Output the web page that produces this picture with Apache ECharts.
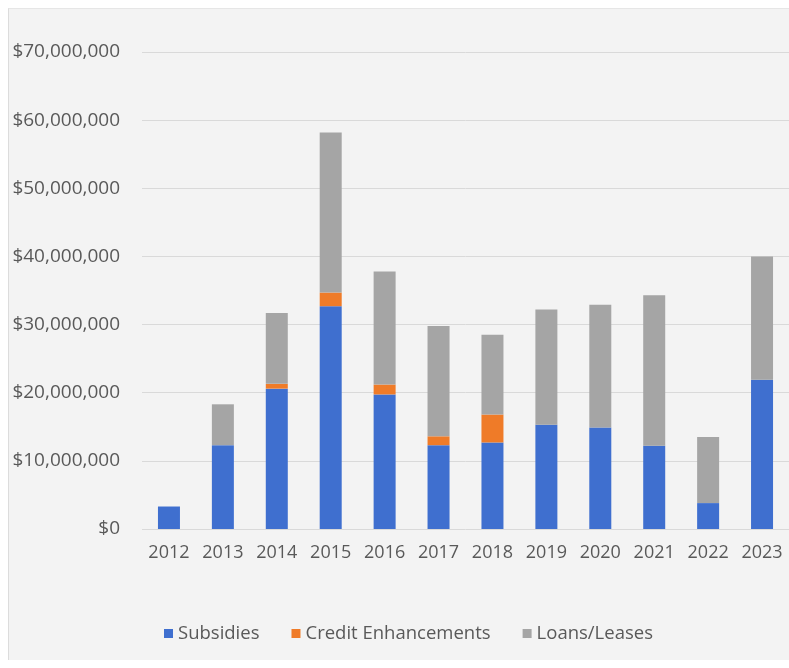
<!DOCTYPE html>
<html>
<head>
<meta charset="utf-8">
<script src="https://cdn.jsdelivr.net/npm/echarts@6/dist/echarts.min.js"></script>
<style>
  html, body { margin: 0; padding: 0; background: #ffffff; }
  #chart {
    position: absolute; left: 8px; top: 8px;
    width: 781px; height: 652px;
    background: #f3f3f3;
    border-left: 1px solid #dcdcdc;
    border-top: 1px solid #e6e6e6;
    box-sizing: border-box;
  }
</style>
</head>
<body>
<div id="chart"></div>
<script>
// 年份
var years = ['2012', '2013', '2014', '2015', '2016', '2017', '2018', '2019', '2020', '2021', '2022', '2023'];

// 各类金额 (美元)
var subsidies = [3300000, 12300000, 20600000, 32700000, 19750000, 12300000, 12700000, 15300000, 14900000, 12200000, 3800000, 21900000];
var creditEnhancements = [0, 0, 700000, 2000000, 1450000, 1300000, 4100000, 0, 0, 0, 0, 0];
var loansLeases = [0, 6000000, 10400000, 23500000, 16600000, 16200000, 11700000, 16900000, 18000000, 22100000, 9700000, 18100000];

var textColor = '#595959';
var fontFamily = '"Open Sans", sans-serif';

var formatDollar = function (value) {
  if (value === 0) return '$0';
  return '$' + String(value).replace(/\B(?=(\d{3})+(?!\d))/g, ',');
};

var option = {
  backgroundColor: 'transparent',
  color: ['#3f6fcf', '#ef7b28', '#a5a5a5'],
  animation: false,
  grid: {
    left: 133,
    right: 0,
    top: 43,
    bottom: 131
  },
  legend: {
    left: 150,
    top: 610,
    itemWidth: 9,
    itemHeight: 9,
    itemGap: 32,
    icon: 'rect',
    textStyle: { color: textColor, fontSize: 18.5, fontFamily: fontFamily },
    data: ['Subsidies', 'Credit Enhancements', 'Loans/Leases']
  },
  xAxis: {
    type: 'category',
    data: years,
    axisLine: { show: false },
    axisTick: { show: false },
    axisLabel: { color: textColor, fontSize: 18, fontFamily: fontFamily, margin: 15 }
  },
  yAxis: {
    type: 'value',
    min: 0,
    max: 70000000,
    interval: 10000000,
    axisLine: { show: false },
    axisTick: { show: false },
    splitLine: { lineStyle: { color: '#d9d9d9', width: 1 } },
    axisLabel: {
      color: textColor, fontSize: 19, fontFamily: fontFamily, margin: 22,
      formatter: formatDollar
    }
  },
  series: [
    { name: 'Subsidies', type: 'bar', stack: 'total', barWidth: 22, data: subsidies },
    { name: 'Credit Enhancements', type: 'bar', stack: 'total', barWidth: 22, data: creditEnhancements },
    { name: 'Loans/Leases', type: 'bar', stack: 'total', barWidth: 22, data: loansLeases }
  ]
};

var chart = echarts.init(document.getElementById('chart'));
chart.setOption(option);
</script>
</body>
</html>
